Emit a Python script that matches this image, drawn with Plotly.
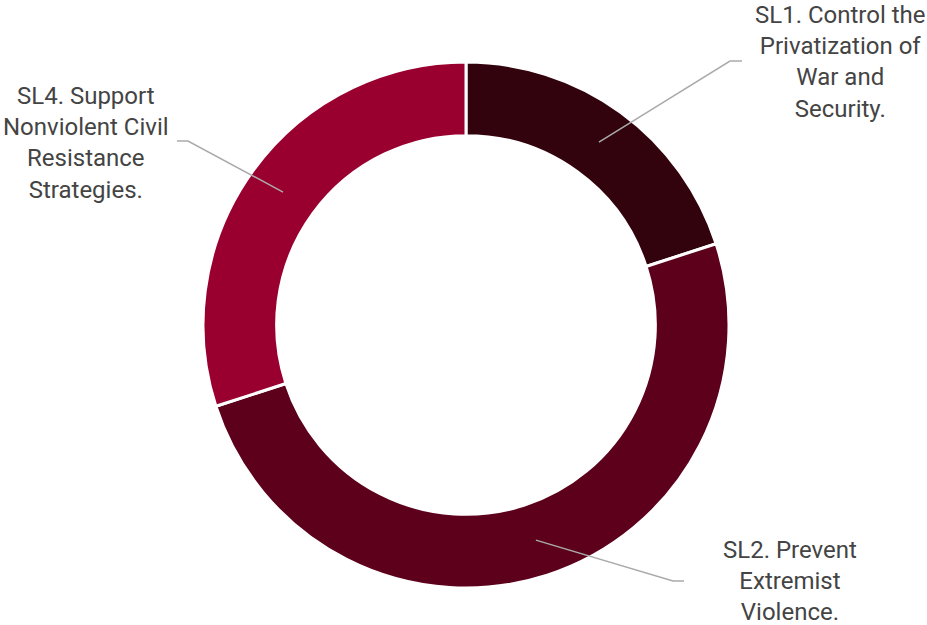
import math
import plotly.graph_objects as go

W, H = 927, 625

# data
labels = ["SL1. Control the Privatization of War and Security.",
          "SL2. Prevent Extremist Violence.",
          "SL4. Support Nonviolent Civil Resistance Strategies."]
label_lines = [
    ["SL1. Control the", "Privatization of", "War and", "Security."],
    ["SL2. Prevent", "Extremist", "Violence."],
    ["SL4. Support", "Nonviolent Civil", "Resistance", "Strategies."],
]
values = [20, 50, 30]
colors = ["#32030d", "#5c001c", "#990030"]

# layout (pixels)
cx, cy, r_out = 466, 325, 263
hole = 0.72
r_mid = r_out * (1 + hole) / 2
# elbow start, elbow end, text centre
elbows = [((730, 61), (742, 61), (840, 62)),
          ((673, 581), (684, 581), (790, 581)),
          ((188, 141), (177, 141), (86, 143))]


def px(x):
    return x / W


def py(y):
    return 1 - y / H


fig = go.Figure(go.Pie(
    labels=labels,
    values=values,
    sort=False,
    direction="clockwise",
    rotation=0,
    hole=hole,
    marker=dict(colors=colors, line=dict(color="white", width=3)),
    textinfo="none",
    hoverinfo="label+percent",
    domain=dict(x=[px(cx - r_out), px(cx + r_out)],
                y=[py(cy + r_out), py(cy - r_out)]),
))

total = sum(values)
cum = 0
for v, lines, (e1, e2, tc) in zip(values, label_lines, elbows):
    mid = (cum + v / 2) / total * 2 * math.pi
    cum += v
    ax = cx + r_mid * math.sin(mid)
    ay = cy - r_mid * math.cos(mid)
    fig.add_shape(
        type="path", xref="paper", yref="paper",
        path=f"M {px(ax)} {py(ay)} L {px(e1[0])} {py(e1[1])} L {px(e2[0])} {py(e2[1])}",
        line=dict(color="#aaaaaa", width=1.5),
    )
    fig.add_annotation(
        x=px(tc[0]), y=py(tc[1]), xref="paper", yref="paper",
        xanchor="center", yanchor="middle", align="center",
        text="<br>".join(lines), showarrow=False,
        font=dict(family="Roboto", size=24, color="#444444"),
    )

fig.update_layout(
    width=W, height=H,
    margin=dict(l=0, r=0, t=0, b=0),
    showlegend=False,
    paper_bgcolor="white",
    plot_bgcolor="white",
)

# drop the browser's default 8px body margin so the figure sits at the corner
fig.write_html("out.html", config={"displayModeBar": False},
               post_script="document.body.style.margin='0';")
